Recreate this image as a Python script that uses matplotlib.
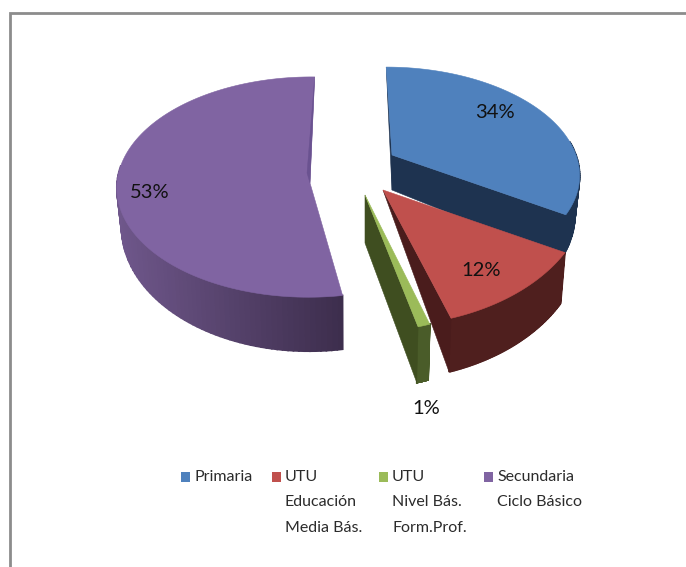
import numpy as np
import matplotlib
matplotlib.use("Agg")
import matplotlib.pyplot as plt
from matplotlib.colors import to_rgb

plt.rcParams["font.family"] = ["Lato", "DejaVu Sans"]

# data
values = [34, 12, 1, 53]
legend_lines = [["Primaria"],
                ["UTU", "Educación", "Media Bás."],
                ["UTU", "Nivel Bás.", "Form.Prof."],
                ["Secundaria", "Ciclo Básico"]]

# colours
top_colors = ["#4f81bd", "#c0504d", "#9bbb59", "#8064a2"]
side_colors = ["#1e3350", "#4f1f1e", "#4a5c29", "#6f578b"]
inner_colors = ["#1e3350", "#4a1c1c", "#3f4e20", "#6a5290"]
PURPLE_DARK = "#3d2e4d"

# per slice look of the fake 3D pie: centre, radii, perspective, rotation, depth
cx = [392, 383, 365, 310]
cy = [155, 190, 195, 183]
rx = [184, 205, 195, 193]
ry = [102, 136, 137, 110]
persp = [0.16, 0.0, 0.0, 0.037]
rotate = [0, 5, 5, -1]
depth0 = [35, 48, 48, 38]
depth1 = [16, 6, 8, 16]
inner_depth = [35, 0, 48, 0]
VX = 350
INSET = 0.02

label_pos = [(495, 113), (481, 270), (426, 408), (150, 192)]
legend_box_x = [181, 272, 379, 484]
legend_text_x = [195, 285, 392, 497]
LEGEND_Y = 477
LINE_H = 25.5

fig = plt.figure(figsize=(6.86, 5.67), dpi=100)
ax = fig.add_axes([0, 0, 1, 1])
ax.set_xlim(0, 686)
ax.set_ylim(567, 0)
ax.axis("off")


def project(i, ang):
    a = np.radians(ang + rotate[i])
    X, Y = np.cos(a), -np.sin(a)
    sc = 1 / (1 - persp[i] * Y)
    return VX + (cx[i] - VX + rx[i] * X) * sc, cy[i] + ry[i] * Y * sc, Y


def lower(i, x, y, Y):
    return VX + (x - VX) * (1 - INSET), y + depth0[i] + depth1[i] * Y


def mix(c1, c2, t):
    c1, c2 = np.array(to_rgb(c1)), np.array(to_rgb(c2))
    return tuple(c1 + (c2 - c1) * t)


def draw_slice(i, a0, a1):
    angs = np.linspace(a0, a1, 120)
    x, y, Y = project(i, angs)
    xb, yb = lower(i, x, y, Y)
    # outer wall, in small strips so purple can carry its gradient
    for k in range(len(angs) - 1):
        # back part of the wall is hidden
        if Y[k] < -0.15:
            continue
        if i == 3:
            t = np.clip((x[k] - 117) / (343 - 117), 0, 1)
            col = mix(side_colors[3], PURPLE_DARK, t)
        else:
            col = side_colors[i]
        ax.fill([x[k], x[k + 1], xb[k + 1], xb[k]], [y[k], y[k + 1], yb[k + 1], yb[k]],
                color=col, lw=1.2)
    # straight walls
    if i == 0:
        ax.fill([x[0], cx[i], cx[i]], [y[0], cy[i], cy[i] + inner_depth[i]],
                color=inner_colors[i], lw=0.4)
        ax.fill([cx[i], x[-1], xb[-1], cx[i]], [cy[i], y[-1], yb[-1], cy[i] + inner_depth[i]],
                color=inner_colors[i], lw=0.4)
    if i == 1:
        ax.fill([cx[i], x[-1], xb[-1]], [cy[i], y[-1], yb[-1]],
                color=inner_colors[i], lw=0.4)
    if i == 2:
        ax.fill([cx[i], x[-1], xb[-1], cx[i]], [cy[i], y[-1], yb[-1], cy[i] + inner_depth[i]],
                color=inner_colors[i], lw=0.4)
    # top
    ax.fill(np.r_[cx[i], x], np.r_[cy[i], y], color=top_colors[i], lw=0.4)
    if i == 3:
        ax.fill([x[-1], cx[i], 307], [y[-1], cy[i], 173], color=inner_colors[i], lw=0.3)


# start angles come from the values
starts = 90 - 3.6 * np.r_[0, np.cumsum(values)]
for i in [3, 0, 1, 2]:
    draw_slice(i, starts[i], starts[i + 1])

for i, v in enumerate(values):
    ax.text(label_pos[i][0], label_pos[i][1], f"{v}%", ha="center", va="center",
            fontsize=14.5, color="#111111")

# legend
for i, lines in enumerate(legend_lines):
    ax.fill([legend_box_x[i], legend_box_x[i] + 9, legend_box_x[i] + 9, legend_box_x[i]],
            [LEGEND_Y - 5, LEGEND_Y - 5, LEGEND_Y + 5, LEGEND_Y + 5],
            color=top_colors[i], lw=0)
    for j, line in enumerate(lines):
        ax.text(legend_text_x[i], LEGEND_Y + j * LINE_H, line, ha="left", va="center",
                fontsize=11.5, color="#2b2b2b")

# frame, only top and left are in the crop
ax.plot([686, 10, 10], [12.5, 12.5, 567], color="#8c8c8c", lw=2, solid_joinstyle="miter")

fig.savefig("out.png", dpi=100, facecolor="white")
